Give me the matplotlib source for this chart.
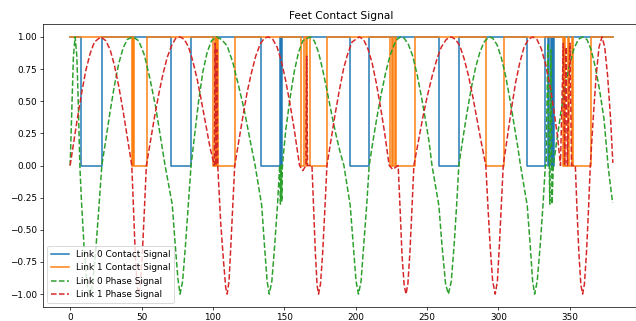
import numpy as np
import matplotlib
matplotlib.use("Agg")
import matplotlib.pyplot as plt

# contact signals: switch times and the state that starts at each time
link0_contact_t = [0, 7.9, 22.2, 71.0, 84.7, 133.4, 146.7, 147.4, 148.6, 196.2, 209.7,
                   258.6, 272.5, 320.0, 332.8, 334.5, 335.5, 337.0, 337.6, 338.6, 339.2, 380]
link0_contact_s = [1, 0, 1, 0, 1, 0, 1, 0, 1, 0, 1,
                   0, 1, 0, 1, 0, 1, 0, 1, 0, 1, 1]

link1_contact_t = [0, 43.2, 43.9, 44.8, 53.5, 100.2, 101.3, 102.2, 103.0, 103.6, 115.5,
                   161.9, 163.5, 164.9, 165.6, 167.7, 179.6, 224.0, 225.2, 226.2, 227.6,
                   228.4, 241.6, 291.2, 303.8, 345.1, 346.2, 347.0, 348.6, 349.3, 351.6,
                   352.4, 364.9, 380]
link1_contact_s = [1, 0, 1, 0, 1, 0, 1, 0, 1, 0, 1,
                   0, 1, 0, 1, 0, 1, 0, 1, 0, 1,
                   0, 1, 0, 1, 0, 1, 0, 1, 0, 1,
                   0, 1, 1]

# phase signals
link0_phase_t = [0, 1.2, 2.3, 3.5, 4.7, 5.8, 6.8, 8.0, 10.0, 12.0, 14.0, 16.0, 18.0, 20.0, 22.2,
                 25, 28, 31, 34, 37, 40, 44, 48, 52, 56, 60, 63, 66.5,
                 71.5, 73.5, 75.5, 77, 78.8, 80.8, 82.8, 84.7,
                 87, 90, 93, 96, 99, 102.5, 106, 110, 114, 118, 122, 126, 129.6,
                 134.2, 136, 138, 139.5, 141.3, 143.3, 145.3, 146.8, 147.3, 147.9, 148.3, 148.7,
                 151, 154, 157, 160, 163, 168, 171, 174, 177, 180, 183, 186, 189, 191.8,
                 196.2, 198.2, 200.3, 202, 203.8, 205.8, 207.8, 209.5,
                 212, 215, 218, 221, 224, 227, 229, 231.5, 234, 237, 240, 243, 246, 249, 251.5, 253.5,
                 258.3, 260.5, 263, 265, 267, 269, 270.8, 272.3,
                 275, 278, 281, 284, 287, 290, 293.4, 296, 299, 302, 305, 308, 311, 313.5, 315.5,
                 320.2, 322.3, 324, 325.4, 327.2, 329.3, 331.3, 332.9,
                 333.5, 334.6, 336.0, 336.8, 337.6, 338.5,
                 341, 344, 347, 350, 353, 356, 359, 362, 365, 368, 371, 374, 377, 380]
link0_phase_v = [0.0, 0.45, 0.85, 1.0, 0.85, 0.45, 0.0, -0.29, -0.68, -0.93, -1.0, -0.9, -0.65, -0.35, 0.0,
                 0.2, 0.42, 0.62, 0.79, 0.91, 0.98, 1.0, 0.97, 0.86, 0.67, 0.45, 0.24, 0.0,
                 -0.3, -0.6, -0.88, -1.0, -0.9, -0.62, -0.3, 0.0,
                 0.22, 0.5, 0.73, 0.88, 0.97, 1.0, 0.98, 0.93, 0.8, 0.62, 0.43, 0.2, 0.0,
                 -0.31, -0.6, -0.9, -1.0, -0.9, -0.62, -0.3, 0.0, -0.3, 0.0, -0.28, 0.0,
                 0.27, 0.52, 0.73, 0.88, 0.97, 1.0, 0.97, 0.88, 0.74, 0.58, 0.41, 0.25, 0.11, 0.0,
                 -0.31, -0.6, -0.9, -1.0, -0.9, -0.6, -0.3, 0.0,
                 0.18, 0.38, 0.56, 0.72, 0.85, 0.94, 0.98, 1.0, 0.99, 0.94, 0.85, 0.71, 0.54, 0.35, 0.18, 0.0,
                 -0.31, -0.62, -0.92, -1.0, -0.9, -0.62, -0.3, 0.0,
                 0.2, 0.41, 0.6, 0.76, 0.88, 0.96, 1.0, 0.99, 0.94, 0.84, 0.7, 0.52, 0.32, 0.15, 0.0,
                 -0.31, -0.62, -0.9, -1.0, -0.9, -0.62, -0.3, 0.0,
                 0.0, 0.95, -0.3, 0.9, -0.3, 0.0,
                 0.2, 0.43, 0.63, 0.79, 0.91, 0.98, 1.0, 0.98, 0.9, 0.76, 0.58, 0.36, -0.02, -0.29]

link1_phase_t = [0, 2.5, 5, 8, 11, 14, 17, 21.5, 25, 28, 31, 34, 37, 40, 43.2,
                 44.4, 45.6, 46.8, 47.9, 49.2, 50.6, 52.0, 53.4,
                 56, 59, 62, 65, 68, 71, 74, 77, 80, 83, 86, 89, 92, 95, 98, 101.0,
                 101.6, 102.3, 102.8, 103.4,
                 105.5, 107.5, 109, 110, 111.3, 112.6, 114, 115.3,
                 118, 121, 124, 127, 130, 133, 136, 139, 142, 145, 148, 151, 154, 157, 160.7,
                 163, 165.2, 165.7, 166.3, 169.4,
                 170.6, 171.8, 173, 174, 175.4, 176.9, 178.4, 179.9,
                 182.5, 185.5, 188.5, 191.5, 194.5, 197.5, 202.5, 205.5, 208.5, 211.5, 214.5, 217.5, 220.5, 223.5,
                 226, 229.8,
                 231.2, 232.5, 234, 235.3, 236.6, 238, 239.4, 240.8,
                 243.5, 247, 250, 253.5, 257, 260, 263.5, 267, 270, 273, 276, 279, 282, 285, 288, 291.2,
                 292.6, 294.2, 296, 297.8, 299.3, 300.7, 302.1, 303.4,
                 306, 309, 312, 315, 318, 321, 324, 327, 330, 333, 336, 339, 341.5, 343.5,
                 345.5, 346.4, 347.4, 348.3, 350.2, 351.2, 353.9,
                 355.1, 356.4, 357.8, 359, 360.3, 361.7, 363.1, 364.4,
                 366.5, 368.5, 370.5, 372.6, 374.5, 376.5, 378.5, 380.2]
link1_phase_v = [0.0, 0.18, 0.36, 0.56, 0.74, 0.87, 0.96, 1.0, 0.97, 0.9, 0.78, 0.62, 0.43, 0.22, 0.0,
                 -0.35, -0.68, -0.92, -1.0, -0.92, -0.68, -0.35, 0.0,
                 0.17, 0.37, 0.55, 0.71, 0.84, 0.93, 0.99, 1.0, 0.98, 0.92, 0.81, 0.67, 0.5, 0.32, 0.14, 0.0,
                 0.95, 0.0, 0.9, 0.0,
                 -0.45, -0.75, -0.95, -1.0, -0.9, -0.62, -0.3, 0.0,
                 0.18, 0.38, 0.57, 0.72, 0.85, 0.94, 0.99, 1.0, 0.98, 0.92, 0.81, 0.66, 0.48, 0.28, 0.0,
                 -0.04, 0.0, 0.85, 0.0, 0.0,
                 -0.35, -0.68, -0.93, -1.0, -0.92, -0.68, -0.35, 0.0,
                 0.18, 0.39, 0.58, 0.75, 0.87, 0.96, 1.0, 0.98, 0.91, 0.8, 0.64, 0.45, 0.24, 0.0,
                 -0.03, 0.0,
                 -0.35, -0.7, -0.93, -1.0, -0.92, -0.68, -0.35, 0.0,
                 0.16, 0.37, 0.53, 0.69, 0.83, 0.92, 0.98, 1.0, 0.98, 0.93, 0.83, 0.7, 0.54, 0.36, 0.18, 0.0,
                 -0.3, -0.62, -0.9, -1.0, -0.9, -0.62, -0.3, 0.0,
                 0.2, 0.43, 0.64, 0.8, 0.92, 0.98, 1.0, 0.98, 0.91, 0.79, 0.63, 0.42, 0.22, 0.0,
                 0.95, 0.0, 0.92, 0.0, 0.95, 0.0, 0.0,
                 -0.35, -0.68, -0.93, -1.0, -0.92, -0.68, -0.35, 0.0,
                 0.38, 0.7, 0.92, 1.0, 0.92, 0.7, 0.38, 0.02]

DPI = 63.6
LW = 1.7
fig = plt.figure(figsize=(636 / DPI, 321 / DPI), dpi=DPI)
ax = fig.add_axes([43 / 636, 14 / 321, 597 / 636, 283 / 321])

ax.plot(link0_contact_t, link0_contact_s, drawstyle='steps-post', lw=LW, label='Link 0 Contact Signal')
ax.plot(link1_contact_t, link1_contact_s, drawstyle='steps-post', lw=LW, label='Link 1 Contact Signal')
ax.plot(link0_phase_t, link0_phase_v, '--', lw=LW, label='Link 0 Phase Signal')
ax.plot(link1_phase_t, link1_phase_v, '--', lw=LW, label='Link 1 Phase Signal')

ax.set_title('Feet Contact Signal')
ax.legend(loc='lower left')

fig.savefig('out.png', dpi=DPI)
